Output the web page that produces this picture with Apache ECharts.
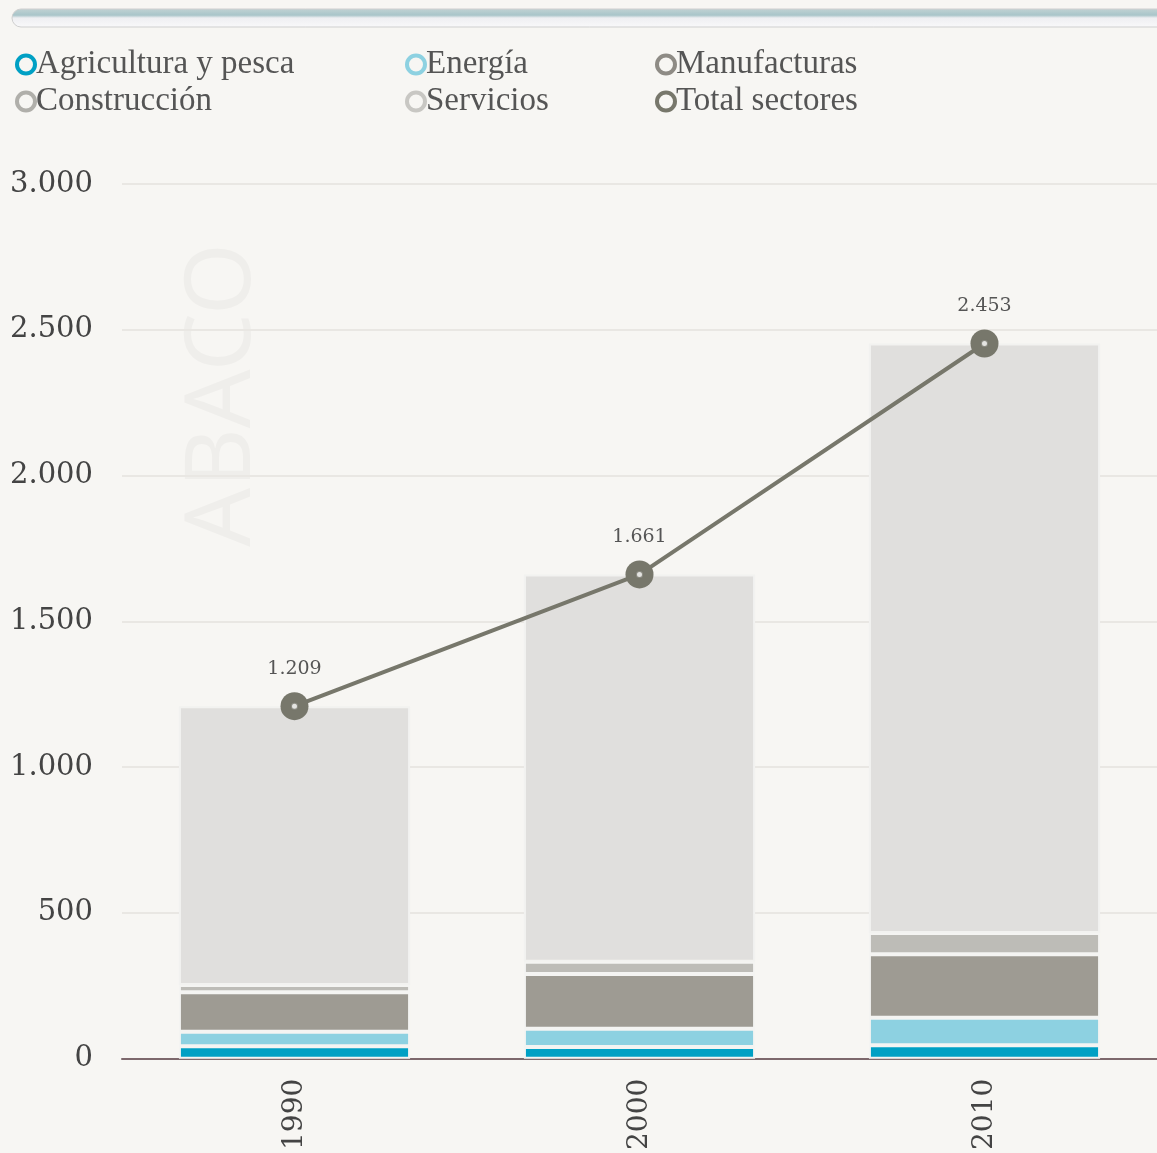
<!DOCTYPE html>
<html>
<head>
<meta charset="utf-8">
<script src="https://cdn.jsdelivr.net/npm/echarts@6/dist/echarts.min.js"></script>
<style>
  html, body { margin: 0; padding: 0; background: #F7F6F3; }
  #chart { width: 1157px; height: 1153px; }
</style>
</head>
<body>
<div id="chart"></div>
<script>
var years = ['1990', '2000', '2010'];
var agricultura = [43, 40, 46];
var energia = [50, 63, 95];
var manufacturas = [135, 188, 217];
var construccion = [25, 42, 73];
var servicios = [956, 1328, 2022];
var total = [1209, 1661, 2453];

var colors = {
    agricultura: '#00A0C4',
    energia: '#8DD1E1',
    manufacturas: '#9E9B93',
    construccion: '#BDBCB7',
    servicios: '#E0DFDD',
    total: '#77776B'
};

var fmt = function (v) {
    return String(v).replace(/\B(?=(\d{3})+(?!\d))/g, '.');
};

var chart = echarts.init(document.getElementById('chart'), null, { renderer: 'canvas' });

var barItem = function (c) {
    return { color: c, borderColor: '#F4F4F2', borderWidth: 2 };
};

var legendItem = function (name, c) {
    return {
        name: name,
        icon: 'circle',
        itemStyle: { color: '#F7F6F3', borderColor: c, borderWidth: 4 }
    };
};

var legendBase = {
    orient: 'vertical',
    top: 43,
    itemGap: 4,
    itemWidth: 18,
    itemHeight: 18,
    selectedMode: false,
    textStyle: { fontFamily: 'Liberation Serif', fontSize: 33, color: '#555', padding: [0, 0, 0, -4] }
};

var option = {
    backgroundColor: '#F7F6F3',
    animation: false,
    graphic: [
        {
            type: 'rect',
            shape: { x: 12, y: 9, width: 1170, height: 18, r: 9 },
            style: {
                fill: new echarts.graphic.LinearGradient(0, 0, 0, 1, [
                    { offset: 0, color: '#C2D3D4' },
                    { offset: 0.35, color: '#A9C5C9' },
                    { offset: 0.5, color: '#EFEFF2' },
                    { offset: 1, color: '#F9F9FA' }
                ]),
                stroke: '#CFCFCF',
                lineWidth: 1
            }
        },
        {
            type: 'text',
            x: 224,
            y: 395,
            rotation: Math.PI / 2,
            z: -1,
            style: {
                text: 'ABACO',
                x: 0,
                y: 0,
                align: 'center',
                verticalAlign: 'middle',
                font: '92px "Noto Sans"',
                fill: '#EFEEEB'
            }
        }
    ],
    legend: [
        Object.assign({}, legendBase, {
            left: 10,
            data: [legendItem('Agricultura y pesca', colors.agricultura), legendItem('Construcción', '#B0AFAA')]
        }),
        Object.assign({}, legendBase, {
            left: 400,
            data: [legendItem('Energía', colors.energia), legendItem('Servicios', '#C8C7C3')]
        }),
        Object.assign({}, legendBase, {
            left: 650,
            data: [legendItem('Manufacturas', '#8E8B85'), legendItem('Total sectores', colors.total)]
        })
    ],
    grid: { left: 122, right: -2, top: 184, bottom: 93, containLabel: false },
    xAxis: {
        type: 'category',
        data: years,
        axisLine: { lineStyle: { color: '#7D686C', width: 2 } },
        axisTick: { show: false },
        axisLabel: {
            rotate: 90,
            margin: 20,
            fontFamily: 'DejaVu Serif',
            fontSize: 28,
            color: '#444'
        }
    },
    yAxis: {
        type: 'value',
        min: 0,
        max: 3000,
        interval: 500,
        axisLine: { show: false },
        axisTick: { show: false },
        splitLine: { lineStyle: { color: '#E9E7E3', width: 2 } },
        axisLabel: {
            margin: 29,
            fontFamily: 'DejaVu Serif',
            fontSize: 29,
            color: '#444',
            formatter: fmt
        }
    },
    series: [
        { name: 'Agricultura y pesca', type: 'bar', stack: 's', barWidth: '67%', data: agricultura, itemStyle: barItem(colors.agricultura) },
        { name: 'Energía', type: 'bar', stack: 's', data: energia, itemStyle: barItem(colors.energia) },
        { name: 'Manufacturas', type: 'bar', stack: 's', data: manufacturas, itemStyle: barItem(colors.manufacturas) },
        { name: 'Construcción', type: 'bar', stack: 's', data: construccion, itemStyle: barItem(colors.construccion) },
        { name: 'Servicios', type: 'bar', stack: 's', data: servicios, itemStyle: { color: colors.servicios, borderColor: '#F2F2F0', borderWidth: 2 } },
        {
            name: 'Total sectores',
            type: 'line',
            data: total,
            z: 5,
            symbol: 'circle',
            symbolSize: 28,
            lineStyle: { color: colors.total, width: 4 },
            itemStyle: { color: colors.total },
            label: {
                show: true,
                position: 'top',
                distance: 14,
                fontFamily: 'DejaVu Serif',
                fontSize: 19,
                color: '#555',
                formatter: function (p) { return fmt(p.value); }
            }
        },
        {
            name: 'Total centro',
            type: 'scatter',
            data: total,
            z: 6,
            symbol: 'emptyCircle',
            symbolSize: 7,
            silent: true,
            itemStyle: { color: colors.total, borderColor: '#DADAD4', borderWidth: 2 }
        }
    ]
};

chart.setOption(option);
window.addEventListener('resize', chart.resize);
</script>
</body>
</html>
